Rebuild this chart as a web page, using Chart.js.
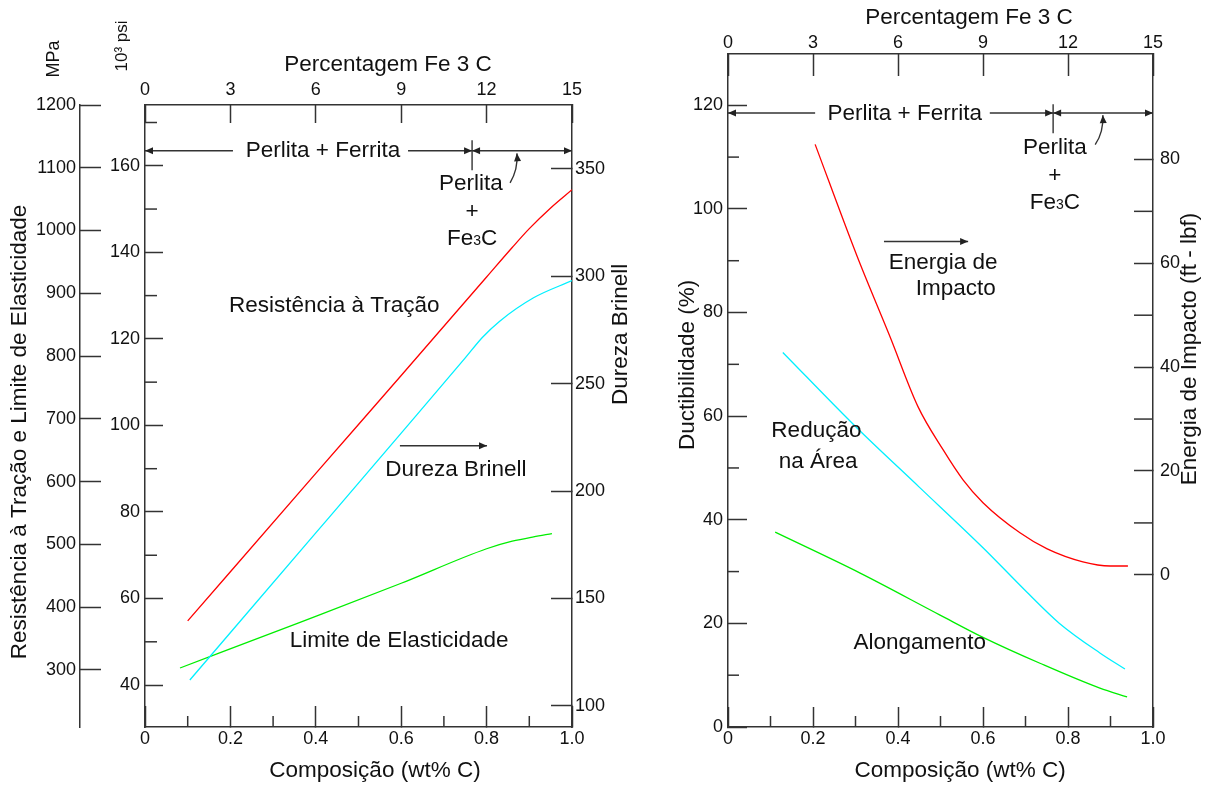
<!DOCTYPE html>
<html><head><meta charset="utf-8">
<script src="https://cdn.jsdelivr.net/npm/chart.js@4/dist/chart.umd.min.js"></script>
<style>
html,body{margin:0;padding:0;background:#fff;width:1208px;height:785px;overflow:hidden;}
#c1{position:absolute;left:0;top:0;}
#c2{position:absolute;left:650px;top:0;}
</style></head><body>
<canvas id="c1" width="650" height="785"></canvas>
<canvas id="c2" width="558" height="785"></canvas>
<script>
// ---------- tick labels / axis values ----------
const compTickValues = [0, 0.2, 0.4, 0.6, 0.8, 1.0];
const compMinorTicks = [0.1, 0.3, 0.5, 0.7, 0.9];
const fe3cTickValues = [0, 3, 6, 9, 12, 15];
const mpaTickValues = [300, 400, 500, 600, 700, 800, 900, 1000, 1100, 1200];
const psiTickValues = [40, 60, 80, 100, 120, 140, 160];
const psiMinorTicks = [50, 70, 90, 110, 130, 150, 170];
const brinellTickValues = [100, 150, 200, 250, 300, 350];
const ductTickValues = [0, 20, 40, 60, 80, 100, 120];
const ductMinorTicks = [10, 30, 50, 70, 90, 110];
const impactTickValues = [0, 20, 40, 60, 80];
const impactMinorTicks = [10, 30, 50, 70];

// ---------- left panel series ----------
const tensileC   = [0.10, 0.40, 0.60, 0.80, 0.86, 0.90, 0.95, 1.00];
const tensileMPa = [378, 613, 769, 926, 973, 1003, 1036, 1065];
const hardnessC  = [0.105, 0.40, 0.60, 0.75, 0.79, 0.83, 0.91, 1.00];
const hardnessHB = [112, 180.5, 227, 262, 271.5, 279, 290, 298];
const yieldC     = [0.082, 0.36, 0.60, 0.80, 0.86, 0.91, 0.953];
const yieldMPa   = [303, 375, 438, 493, 505, 512, 517];

// ---------- right panel series ----------
const impactC    = [0.205, 0.304, 0.381, 0.447, 0.506, 0.553, 0.600, 0.687, 0.751, 0.835, 0.899, 0.941];
const impactFtLb = [82.9, 61.3, 45.9, 32.4, 24.1, 18.3, 13.9, 8.1, 5.0, 2.5, 1.7, 1.7];
const raC        = [0.129, 0.30, 0.45, 0.60, 0.70, 0.78, 0.875, 0.934];
const raPct      = [72.3, 58.0, 46.3, 34.6, 26.3, 20.0, 14.3, 11.2];
const elongC     = [0.111, 0.311, 0.499, 0.600, 0.734, 0.875, 0.939];
const elongPct   = [37.6, 29.7, 21.6, 17.3, 12.3, 7.5, 5.8];

// ---------- styling ----------
const FONT = "'Liberation Sans', Arial, Helvetica, sans-serif";
const AXIS_COLOR = '#333';
const TEXT_COLOR = '#111';
const TXT = 22.5;
Chart.defaults.font.family = FONT;

function pts(xs, ys) { return xs.map((x, i) => ({x: x, y: ys[i]})); }
function fmtComp(v) { return v === 0 ? '0' : Number(v).toFixed(1); }

function axis(o) {
  const horiz = o.position === 'top' || o.position === 'bottom';
  return {
    type: 'linear', position: o.position, min: o.min, max: o.max, weight: o.weight || 0,
    grid: {display: true, drawOnChartArea: false, drawTicks: true, tickLength: o.tickLength,
           tickColor: AXIS_COLOR, tickWidth: 1.5},
    border: {display: true, color: AXIS_COLOR, width: 1.5},
    ticks: {autoSkip: false, maxRotation: 0, minRotation: 0, padding: o.padding, color: TEXT_COLOR,
            font: {family: FONT, size: 18}, callback: o.format || (v => String(v))},
    title: {display: false},
    afterBuildTicks: s => { s.ticks = o.ticks.map(v => ({value: v})); },
    afterFit: horiz ? (s => { s.height = o.size; }) : (s => { s.width = o.size; })
  };
}

function line(xs, ys, yId, color) {
  return {data: pts(xs, ys), xAxisID: 'x', yAxisID: yId, borderColor: color, backgroundColor: color,
          borderWidth: 1.3, pointRadius: 0, fill: false, cubicInterpolationMode: 'monotone'};
}

function arrowHead(ctx, x1, y1, x2, y2) {
  const a = Math.atan2(y2 - y1, x2 - x1), L = 8, W = 3.5;
  ctx.beginPath();
  ctx.moveTo(x2, y2);
  ctx.lineTo(x2 - L * Math.cos(a) + W * Math.sin(a), y2 - L * Math.sin(a) - W * Math.cos(a));
  ctx.lineTo(x2 - L * Math.cos(a) - W * Math.sin(a), y2 - L * Math.sin(a) + W * Math.cos(a));
  ctx.closePath(); ctx.fill();
}

function drawFe3C(ctx, cx, cy, size) {
  const big = size + 'px ' + FONT, small = Math.round(size * 0.62) + 'px ' + FONT;
  ctx.font = big; const w1 = ctx.measureText('Fe').width, w3 = ctx.measureText('C').width;
  ctx.font = small; const w2 = ctx.measureText('3').width;
  let x = cx - (w1 + w2 + w3) / 2; const base = cy + size * 0.36;
  ctx.textAlign = 'left'; ctx.textBaseline = 'alphabetic';
  ctx.font = big; ctx.fillText('Fe', x, base); x += w1;
  ctx.font = small; ctx.fillText('3', x, base); x += w2;
  ctx.font = big; ctx.fillText('C', x, base);
}

function decor(spec) {
  return {
    id: 'decor' + spec.name,
    afterDraw(chart) {
      const ctx = chart.ctx, S = chart.scales;
      const P = (x, y) => [S[spec.xs].getPixelForValue(x), S[spec.ys].getPixelForValue(y)];
      ctx.save();
      // minor ticks
      ctx.strokeStyle = AXIS_COLOR; ctx.lineWidth = 1.5;
      for (const m of spec.minor) {
        const s = S[m.scale];
        for (const v of m.values) {
          const p = s.getPixelForValue(v);
          ctx.beginPath();
          if (s.position === 'left') { ctx.moveTo(s.right, p); ctx.lineTo(s.right + m.len, p); }
          else if (s.position === 'right') { ctx.moveTo(s.left, p); ctx.lineTo(s.left - m.len, p); }
          else if (s.position === 'bottom') { ctx.moveTo(p, s.top); ctx.lineTo(p, s.top - m.len); }
          else { ctx.moveTo(p, s.bottom); ctx.lineTo(p, s.bottom + m.len); }
          ctx.stroke();
        }
      }
      // arrows and bars
      ctx.strokeStyle = '#333'; ctx.fillStyle = '#222'; ctx.lineWidth = 1.4;
      for (const a of spec.arrows) {
        const [x1, y1] = P(a.from[0], a.from[1]), [x2, y2] = P(a.to[0], a.to[1]);
        ctx.beginPath(); ctx.moveTo(x1, y1); ctx.lineTo(x2, y2); ctx.stroke();
        if (a.head !== false) arrowHead(ctx, x1, y1, x2, y2);
        if (a.both) arrowHead(ctx, x2, y2, x1, y1);
      }
      for (const c of spec.curves) {
        const [x1, y1] = P(c.from[0], c.from[1]), [cx, cy] = P(c.ctrl[0], c.ctrl[1]), [x2, y2] = P(c.to[0], c.to[1]);
        ctx.beginPath(); ctx.moveTo(x1, y1); ctx.quadraticCurveTo(cx, cy, x2, y2); ctx.stroke();
        arrowHead(ctx, cx, cy, x2, y2);
      }
      // texts
      ctx.fillStyle = TEXT_COLOR;
      for (const t of spec.texts) {
        const [x, y] = t.at ? t.at(chart) : P(t.x, t.y);
        const size = t.size || TXT;
        if (t.fe3c) { drawFe3C(ctx, x, y, size); continue; }
        ctx.font = size + 'px ' + FONT; ctx.textAlign = 'center'; ctx.textBaseline = 'middle';
        if (t.rot) {
          ctx.save(); ctx.translate(x, y); ctx.rotate(-Math.PI / 2); ctx.fillText(t.t, 0, 0); ctx.restore();
        } else ctx.fillText(t.t, x, y);
      }
      ctx.restore();
    }
  };
}

const common = {
  responsive: false, animation: false, events: [],
  layout: {padding: 0},
  plugins: {legend: {display: false}, tooltip: {enabled: false}}
};

// ---------- left chart ----------
new Chart(document.getElementById('c1'), {
  type: 'line',
  data: {datasets: [
    line(tensileC, tensileMPa, 'yMPa', '#ff0000'),
    line(hardnessC, hardnessHB, 'yHB', '#00f0ff'),
    line(yieldC, yieldMPa, 'yMPa', '#00ee00')
  ]},
  options: Object.assign({}, common, {
    scales: {
      x: axis({position: 'bottom', min: 0, max: 1, ticks: compTickValues, tickLength: -21, padding: 22, size: 58, format: fmtComp}),
      xTop: axis({position: 'top', min: 0, max: 15, ticks: fe3cTickValues, tickLength: -18, padding: 22, size: 105}),
      yMPa: axis({position: 'left', weight: 10, min: 209, max: 1200, ticks: mpaTickValues, tickLength: -21, padding: 25, size: 80}),
      yPsi: axis({position: 'left', weight: 0, min: 209 / 6.89476, max: 1200 / 6.89476, ticks: psiTickValues, tickLength: -18, padding: 23, size: 65}),
      yHB: axis({position: 'right', min: 90.1, max: 379.8, ticks: brinellTickValues, tickLength: -21, padding: 24, size: 78})
    }
  }),
  plugins: [decor({
    name: 'L', xs: 'x', ys: 'yMPa',
    minor: [
      {scale: 'x', values: compMinorTicks, len: 11},
      {scale: 'yPsi', values: psiMinorTicks, len: 12}
    ],
    arrows: [
      {from: [0.206, 1127], to: [0, 1127]},
      {from: [0.616, 1127], to: [0.766, 1127]},
      {from: [0.766, 1127], to: [1.0, 1127], both: true},
      {from: [0.766, 1144], to: [0.766, 1096], head: false},
      {from: [0.597, 657], to: [0.801, 657]}
    ],
    curves: [{from: [0.855, 1076], ctrl: [0.874, 1098], to: [0.871, 1123]}],
    texts: [
      {t: 'Perlita + Ferrita', x: 0.417, y: 1127},
      {t: 'Perlita', x: 0.763, y: 1075},
      {t: '+', x: 0.766, y: 1030},
      {fe3c: true, x: 0.766, y: 990},
      {t: 'Resistência à Tração', x: 0.443, y: 880},
      {t: 'Dureza Brinell', x: 0.728, y: 619},
      {t: 'Limite de Elasticidade', x: 0.595, y: 346},
      {t: 'MPa', rot: true, size: 18, at: c => [c.scales.yMPa.right - 26, c.chartArea.top - 46]},
      {t: '10³ psi', rot: true, size: 17, at: c => [c.scales.yPsi.right - 23, c.chartArea.top - 59]},
      {t: 'Resistência à Tração e Limite de Elasticidade', rot: true, at: c => [c.scales.yMPa.left + 20, c.scales.yMPa.getPixelForValue(679)]},
      {t: 'Percentagem Fe 3 C', at: c => [c.scales.x.getPixelForValue(0.569), c.chartArea.top - 40]},
      {t: 'Composição (wt% C)', at: c => [c.scales.x.getPixelForValue(0.5386), c.chartArea.bottom + 44]},
      {t: 'Dureza Brinell', rot: true, at: c => [c.chartArea.right + 49, c.scales.yHB.getPixelForValue(273)]}
    ]
  })]
});

// ---------- right chart ----------
new Chart(document.getElementById('c2'), {
  type: 'line',
  data: {datasets: [
    line(impactC, impactFtLb, 'yE', '#ff0000'),
    line(raC, raPct, 'yD', '#00f0ff'),
    line(elongC, elongPct, 'yD', '#00ee00')
  ]},
  options: Object.assign({}, common, {
    scales: {
      x: axis({position: 'bottom', min: 0, max: 1, ticks: compTickValues, tickLength: -20, padding: 21, size: 58, format: fmtComp}),
      xTop: axis({position: 'top', min: 0, max: 15, ticks: fe3cTickValues, tickLength: -22, padding: 22, size: 54}),
      yD: axis({position: 'left', min: 0, max: 129.9, ticks: ductTickValues, tickLength: -19, padding: 24, size: 78}),
      yE: axis({position: 'right', min: -29.3, max: 100.3, ticks: impactTickValues, tickLength: -19, padding: 26, size: 55})
    }
  }),
  plugins: [decor({
    name: 'R', xs: 'x', ys: 'yD',
    minor: [
      {scale: 'x', values: compMinorTicks, len: 11},
      {scale: 'yD', values: ductMinorTicks, len: 11},
      {scale: 'yE', values: impactMinorTicks, len: 19}
    ],
    arrows: [
      {from: [0.205, 118.5], to: [0, 118.5]},
      {from: [0.616, 118.5], to: [0.765, 118.5]},
      {from: [0.765, 118.5], to: [1.0, 118.5], both: true},
      {from: [0.765, 120.2], to: [0.765, 114.6], head: false},
      {from: [0.367, 93.7], to: [0.565, 93.7]}
    ],
    curves: [{from: [0.864, 112.4], ctrl: [0.884, 114.8], to: [0.882, 118.1]}],
    texts: [
      {t: 'Perlita + Ferrita', x: 0.416, y: 118.3},
      {t: 'Perlita', x: 0.769, y: 111.7},
      {t: '+', x: 0.769, y: 106.4},
      {fe3c: true, x: 0.769, y: 101.5},
      {t: 'Energia de', x: 0.506, y: 89.6},
      {t: 'Impacto', x: 0.536, y: 84.6},
      {t: 'Redução', x: 0.208, y: 57.2},
      {t: 'na Área', x: 0.212, y: 51.1},
      {t: 'Alongamento', x: 0.451, y: 16.2},
      {t: 'Percentagem Fe 3 C', at: c => [c.scales.x.getPixelForValue(0.567), c.chartArea.top - 36]},
      {t: 'Composição (wt% C)', at: c => [c.scales.x.getPixelForValue(0.546), c.chartArea.bottom + 44]},
      {t: 'Ductibilidade (%)', rot: true, at: c => [c.chartArea.left - 40, c.scales.yD.getPixelForValue(69.9)]},
      {t: 'Energia de Impacto (ft - lbf)', rot: true, at: c => [c.chartArea.right + 37, c.scales.yE.getPixelForValue(43.5)]}
    ]
  })]
});
</script>
</body></html>
